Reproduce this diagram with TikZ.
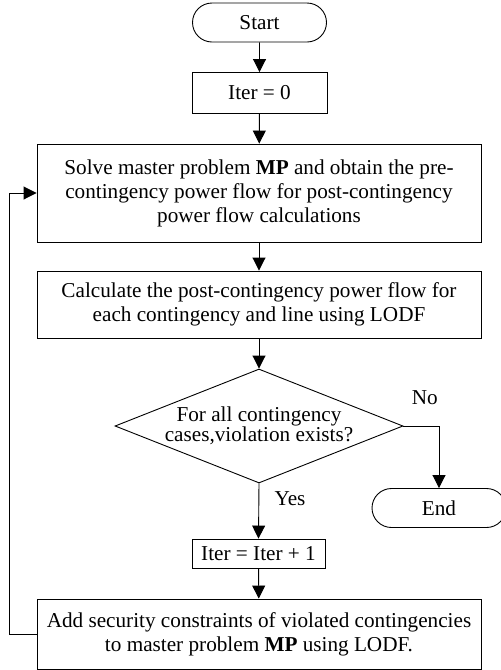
\documentclass[tikz,border=0pt]{standalone}
\usepackage{fontspec}
\setmainfont{Liberation Serif}
\usetikzlibrary{arrows.meta,shapes.geometric,shapes.misc}

\begin{document}
\begin{tikzpicture}[x=1pt,y=-1pt,
  font=\fontsize{21.2}{24}\selectfont,
  line width=0.9pt,
  >={Triangle[length=13pt,width=13pt]},
  terminal/.style={draw,rounded rectangle,minimum width=134pt,minimum height=39pt,inner sep=0pt},
  proc/.style={draw,rectangle,align=center,inner sep=0pt},
  decision/.style={draw,diamond,minimum width=288pt,minimum height=114pt,inner sep=0pt}]
%Bildgroesse wie Vorlage (1pt = 1px, y nach unten)
\useasboundingbox (0,0) rectangle (501,670);
\node[terminal] (start) at (259.5,22.5) {Start};
\node[proc,minimum width=135pt,minimum height=41pt] (iter0) at (259.5,93) {Iter = 0};
\node[proc,minimum width=444pt,minimum height=98pt] (solve) at (259,193)
  {Solve master problem \textbf{MP} and obtain the pre-\\contingency power flow for post-contingency\\power flow calculations};
\node[proc,minimum width=444pt,minimum height=67pt] (calc) at (259,304.5)
  {Calculate the post-contingency power flow for\\each contingency and line using LODF};
\node[decision,label={[align=center,font=\fontsize{21.2}{19}\selectfont]center:For all contingency\\cases,violation exists?}] (check) at (259,426) {};
\node[terminal] (end) at (439,508) {End};
\node[proc,minimum width=133pt,minimum height=29pt] (iter1) at (258.5,553.5) {Iter = Iter + 1};
\node[proc,minimum width=444pt,minimum height=70pt] (add) at (259,634)
  {Add security constraints of violated contingencies\\to master problem \textbf{MP} using LODF.};
\coordinate (back) at (9.5,634);
%Pfeile
\draw[->] (start) -- (iter0);
\draw[->] (iter0) -- (solve);
\draw[->] (solve) -- (calc);
\draw[->] (calc) -- (check);
\draw[->] (check.east) -| node[pos=0.3,above=18pt] {No} (end.north);
\draw[->] (check.south) -- node[pos=0.27,right=12pt] {Yes} (iter1.north);
\draw[->] (iter1) -- (add);
\draw[->] (add.west) -- (back) |- (solve.west);
\end{tikzpicture}
\end{document}
